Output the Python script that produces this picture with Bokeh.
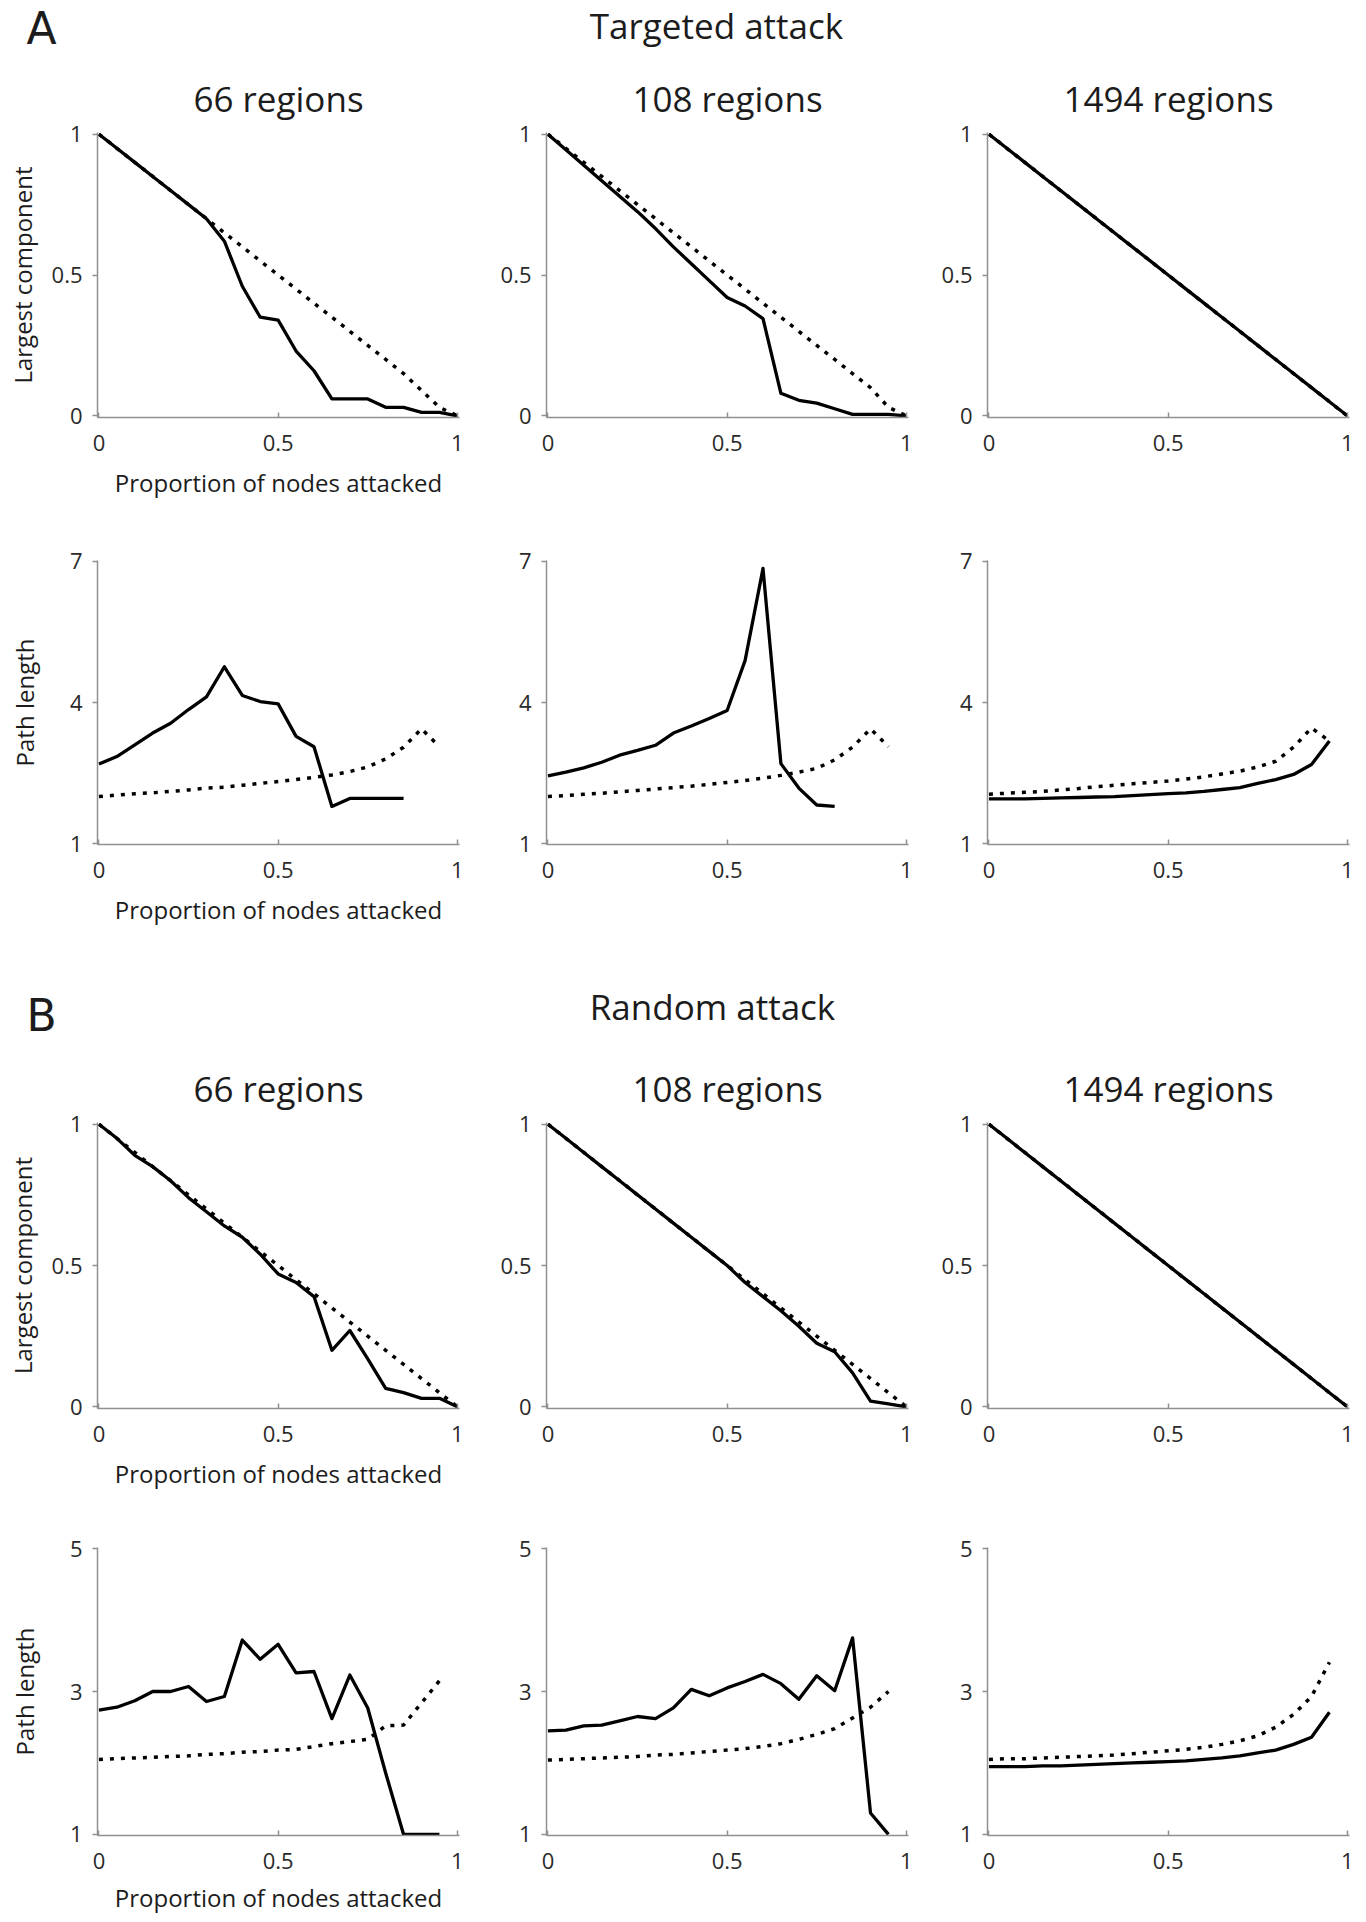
from bokeh.plotting import figure
from bokeh.layouts import column, row
from bokeh.models import Range1d, FixedTicker, NumeralTickFormatter, Label
from bokeh.embed import file_html
from bokeh.resources import INLINE

# ---------------- data ----------------
PROP = [0.0, 0.05, 0.1, 0.15, 0.2, 0.25, 0.3, 0.35, 0.4, 0.45, 0.5,
        0.55, 0.6, 0.65, 0.7, 0.75, 0.8, 0.85, 0.9, 0.95, 1.0]

COLS = ["66 regions", "108 regions", "1494 regions"]
SECTIONS = [("A", "Targeted attack"), ("B", "Random attack")]
XLABEL = "Proportion of nodes attacked"
YLABEL_LCC = "Largest component"
YLABEL_PL = "Path length"
X_TICKS = [0, 0.5, 1]
LCC_TICKS = [0, 0.5, 1]
TGT_PL_TICKS = [1, 4, 7]
RND_PL_TICKS = [1, 3, 5]

# Targeted attack - largest component (solid = brain network, dotted = comparison)
TGT66_LCC = [1.0, 0.95, 0.9, 0.85, 0.8, 0.75, 0.7, 0.62, 0.46, 0.35, 0.34,
             0.23, 0.16, 0.06, 0.06, 0.06, 0.03, 0.03, 0.012, 0.012, 0.0]
TGT66_LCC_NULL = [1.0, 0.95, 0.9, 0.85, 0.8, 0.75, 0.7, 0.65, 0.6, 0.55, 0.5,
                  0.45, 0.4, 0.35, 0.3, 0.25, 0.2, 0.15, 0.09, 0.03, 0.0]
TGT108_LCC = [1.0, 0.945, 0.89, 0.835, 0.78, 0.725, 0.665, 0.6, 0.54, 0.48, 0.42,
              0.39, 0.345, 0.08, 0.055, 0.045, 0.025, 0.005, 0.005, 0.005, 0.0]
TGT108_LCC_NULL = [1.0, 0.95, 0.9, 0.85, 0.8, 0.75, 0.7, 0.65, 0.6, 0.55, 0.5,
                   0.45, 0.4, 0.35, 0.3, 0.25, 0.2, 0.15, 0.1, 0.03, 0.0]
TGT1494_LCC = [1.0, 0.95, 0.9, 0.85, 0.8, 0.75, 0.7, 0.65, 0.6, 0.55, 0.5,
               0.45, 0.4, 0.35, 0.3, 0.25, 0.2, 0.15, 0.1, 0.05, 0.0]
TGT1494_LCC_NULL = [1.0, 0.95, 0.9, 0.85, 0.8, 0.75, 0.7, 0.65, 0.6, 0.55, 0.5,
                    0.45, 0.4, 0.35, 0.3, 0.25, 0.2, 0.15, 0.1, 0.05, 0.0]

# Targeted attack - path length
TGT66_PL = [2.69, 2.85, 3.1, 3.35, 3.56, 3.85, 4.12, 4.76, 4.15, 4.02, 3.97,
            3.28, 3.06, 1.79, 1.96, 1.96, 1.96, 1.96]
TGT66_PL_NULL = [2.0, 2.03, 2.06, 2.08, 2.11, 2.14, 2.18, 2.2, 2.24, 2.28, 2.32,
                 2.36, 2.41, 2.46, 2.53, 2.63, 2.8, 3.05, 3.44, 3.06]
TGT108_PL = [2.44, 2.52, 2.61, 2.73, 2.88, 2.98, 3.09, 3.35, 3.5, 3.66, 3.83,
             4.89, 6.85, 2.7, 2.18, 1.82, 1.79]
TGT108_PL_NULL = [2.0, 2.02, 2.05, 2.07, 2.1, 2.13, 2.16, 2.19, 2.22, 2.26, 2.3,
                  2.34, 2.39, 2.45, 2.52, 2.6, 2.78, 3.05, 3.44, 3.06]
TGT1494_PL = [1.95, 1.95, 1.95, 1.96, 1.97, 1.98, 1.99, 2.0, 2.02, 2.04, 2.06,
              2.08, 2.11, 2.15, 2.19, 2.28, 2.36, 2.47, 2.68, 3.18]
TGT1494_PL_NULL = [2.05, 2.07, 2.09, 2.11, 2.14, 2.17, 2.21, 2.24, 2.27, 2.3, 2.33,
                   2.37, 2.42, 2.48, 2.54, 2.63, 2.75, 3.05, 3.46, 3.18]

# Random attack - largest component
RND66_LCC = [1.0, 0.95, 0.89, 0.85, 0.8, 0.74, 0.69, 0.64, 0.6, 0.54, 0.47,
             0.44, 0.39, 0.2, 0.27, 0.17, 0.065, 0.05, 0.03, 0.03, 0.0]
RND66_LCC_NULL = [1.0, 0.95, 0.9, 0.85, 0.8, 0.75, 0.7, 0.65, 0.6, 0.55, 0.5,
                  0.45, 0.4, 0.35, 0.3, 0.25, 0.2, 0.15, 0.1, 0.05, 0.0]
RND108_LCC = [1.0, 0.95, 0.9, 0.85, 0.8, 0.75, 0.7, 0.65, 0.6, 0.55, 0.5,
              0.44, 0.39, 0.34, 0.285, 0.225, 0.195, 0.12, 0.02, 0.01, 0.0]
RND108_LCC_NULL = [1.0, 0.95, 0.9, 0.85, 0.8, 0.75, 0.7, 0.65, 0.6, 0.55, 0.5,
                   0.45, 0.4, 0.35, 0.3, 0.25, 0.2, 0.15, 0.1, 0.05, 0.0]
RND1494_LCC = [1.0, 0.95, 0.9, 0.85, 0.8, 0.75, 0.7, 0.65, 0.6, 0.55, 0.5,
               0.45, 0.4, 0.35, 0.3, 0.25, 0.2, 0.15, 0.1, 0.05, 0.0]
RND1494_LCC_NULL = [1.0, 0.95, 0.9, 0.85, 0.8, 0.75, 0.7, 0.65, 0.6, 0.55, 0.5,
                    0.45, 0.4, 0.35, 0.3, 0.25, 0.2, 0.15, 0.1, 0.05, 0.0]

# Random attack - path length
RND66_PL = [2.74, 2.78, 2.87, 3.0, 3.0, 3.07, 2.86, 2.93, 3.72, 3.45, 3.66,
            3.26, 3.28, 2.62, 3.23, 2.77, 1.86, 1.0, 1.0, 1.0]
RND66_PL_NULL = [2.05, 2.06, 2.07, 2.08, 2.09, 2.1, 2.12, 2.13, 2.15, 2.16, 2.18,
                 2.19, 2.23, 2.27, 2.3, 2.33, 2.52, 2.53, 2.84, 3.15]
RND108_PL = [2.45, 2.46, 2.52, 2.53, 2.59, 2.65, 2.62, 2.77, 3.03, 2.94, 3.05,
             3.14, 3.24, 3.11, 2.89, 3.22, 3.01, 3.75, 1.3, 1.0]
RND108_PL_NULL = [2.04, 2.05, 2.06, 2.07, 2.08, 2.09, 2.11, 2.12, 2.14, 2.16, 2.18,
                  2.2, 2.23, 2.27, 2.33, 2.4, 2.48, 2.63, 2.78, 3.0]
RND1494_PL = [1.95, 1.95, 1.95, 1.96, 1.96, 1.97, 1.98, 1.99, 2.0, 2.01, 2.02,
              2.03, 2.05, 2.07, 2.1, 2.14, 2.18, 2.26, 2.36, 2.71]
RND1494_PL_NULL = [2.05, 2.06, 2.06, 2.07, 2.08, 2.09, 2.1, 2.11, 2.13, 2.15, 2.17,
                   2.19, 2.22, 2.26, 2.31, 2.38, 2.5, 2.68, 2.93, 3.41]

# ---------------- styling ----------------
FONT = "Open Sans"
LETTER_FONT = "DejaVu Sans"
TEXT = "#1c1c1c"
AXIS = "#909090"
FRAME_W = 362
COL_GEOM = [(495, 97), (441, 51), (422, 51)]   # (figure width, left border)
TOTAL_W = 1358


def panel(col, ys, ys_null, ylim, yticks, is_lcc, geom, title, title_standoff=21,
          tick_standoff=17, label_standoff=12):
    top, frame_h, bottom = geom
    width, left = COL_GEOM[col]
    right = width - left - FRAME_W
    p = figure(width=width, height=top + frame_h + bottom,
               x_range=Range1d(-0.004, 1.006), y_range=Range1d(*ylim),
               output_backend="svg", toolbar_location=None,
               min_border_left=left, min_border_right=right,
               min_border_top=top, min_border_bottom=bottom,
               title=title)
    p.outline_line_color = None
    p.grid.visible = False
    p.background_fill_color = "white"
    p.border_fill_color = "white"
    if title:
        p.title.align = "center"
        p.title.text_font = FONT
        p.title.text_font_size = "35px"
        p.title.text_font_style = "normal"
        p.title.text_color = TEXT
        p.title.standoff = title_standoff

    p.line(PROP[:len(ys_null)], ys_null, line_color="black", line_width=3.5,
           line_dash="4 7", line_cap="butt")
    p.line(PROP[:len(ys)], ys, line_color="black", line_width=3.3, line_join="round")

    for ax in (p.xaxis[0], p.yaxis[0]):
        ax.axis_line_color = AXIS
        ax.axis_line_width = 1.5
        ax.major_tick_line_color = AXIS
        ax.major_tick_line_width = 1.5
        ax.minor_tick_line_color = None
        ax.major_label_text_font = FONT
        ax.major_label_text_font_size = "22px"
        ax.major_label_text_color = "#2a2a2a"
        ax.axis_label_text_font = FONT
        ax.axis_label_text_font_size = "24px"
        ax.axis_label_text_font_style = "normal"
        ax.axis_label_text_color = TEXT

    xa = p.xaxis[0]
    xa.ticker = FixedTicker(ticks=X_TICKS)
    xa.formatter = NumeralTickFormatter(format="0.[0]")
    xa.major_tick_in = 5
    xa.major_tick_out = 0
    xa.major_label_standoff = tick_standoff
    ya = p.yaxis[0]
    ya.ticker = FixedTicker(ticks=yticks)
    ya.formatter = NumeralTickFormatter(format="0.[0]")
    ya.major_tick_in = 0
    ya.major_tick_out = 5
    ya.major_label_standoff = 10
    if col == 0:
        xa.axis_label = XLABEL
        xa.axis_label_standoff = label_standoff
        ya.axis_label = YLABEL_LCC if is_lcc else YLABEL_PL
        ya.axis_label_standoff = 10 if is_lcc else 26
    return p


def header(height, letter, text, pos):
    h = figure(width=TOTAL_W, height=height, x_range=Range1d(0, TOTAL_W),
               y_range=Range1d(0, height), output_backend="svg",
               toolbar_location=None, min_border=0,
               x_axis_type=None, y_axis_type=None)
    h.outline_line_color = None
    h.grid.visible = False
    h.add_layout(Label(x=pos[0], y=pos[1], text=letter, text_font=LETTER_FONT,
                       text_font_size="44px", text_color=TEXT,
                       text_align="center", text_baseline="middle"))
    h.add_layout(Label(x=pos[2], y=pos[3], text=text, text_font=FONT,
                       text_font_size="35px", text_color=TEXT,
                       text_align="center", text_baseline="middle"))
    return h


LCC_LIM = (-0.006, 1.006)
TGT_PL_LIM = (0.98, 7.02)
RND_PL_LIM = (0.985, 5.015)

G1 = (72, 285, 95)    # row 1: page 60-512
G2 = (48, 284, 96)    # row 2: page 512-940
G3 = (77, 286, 94)    # row 3: page 1045-1502
G4 = (45, 288, 86)    # row 4: page 1502-1921

hA = header(60, SECTIONS[0][0], SECTIONS[0][1], (41, 32, 716, 35.5))
r1 = [panel(0, TGT66_LCC, TGT66_LCC_NULL, LCC_LIM, LCC_TICKS, True, G1, COLS[0]),
      panel(1, TGT108_LCC, TGT108_LCC_NULL, LCC_LIM, LCC_TICKS, True, G1, COLS[1]),
      panel(2, TGT1494_LCC, TGT1494_LCC_NULL, LCC_LIM, LCC_TICKS, True, G1, COLS[2])]
r2 = [panel(0, TGT66_PL, TGT66_PL_NULL, TGT_PL_LIM, TGT_PL_TICKS, False, G2, None),
      panel(1, TGT108_PL, TGT108_PL_NULL, TGT_PL_LIM, TGT_PL_TICKS, False, G2, None),
      panel(2, TGT1494_PL, TGT1494_PL_NULL, TGT_PL_LIM, TGT_PL_TICKS, False, G2, None)]
hB = header(105, SECTIONS[1][0], SECTIONS[1][1], (41, 30.5, 712, 39.5))
r3 = [panel(0, RND66_LCC, RND66_LCC_NULL, LCC_LIM, LCC_TICKS, True, G3, COLS[0]),
      panel(1, RND108_LCC, RND108_LCC_NULL, LCC_LIM, LCC_TICKS, True, G3, COLS[1]),
      panel(2, RND1494_LCC, RND1494_LCC_NULL, LCC_LIM, LCC_TICKS, True, G3, COLS[2])]
r4 = [panel(0, RND66_PL, RND66_PL_NULL, RND_PL_LIM, RND_PL_TICKS, False, G4, None, 21, 17, 9),
      panel(1, RND108_PL, RND108_PL_NULL, RND_PL_LIM, RND_PL_TICKS, False, G4, None, 21, 17, 9),
      panel(2, RND1494_PL, RND1494_PL_NULL, RND_PL_LIM, RND_PL_TICKS, False, G4, None, 21, 17, 9)]

layout = column(hA, row(*r1, spacing=0), row(*r2, spacing=0), hB,
                row(*r3, spacing=0), row(*r4, spacing=0), spacing=0)

open("out.html", "w").write(file_html(layout, INLINE, title="Network attack tolerance"))
